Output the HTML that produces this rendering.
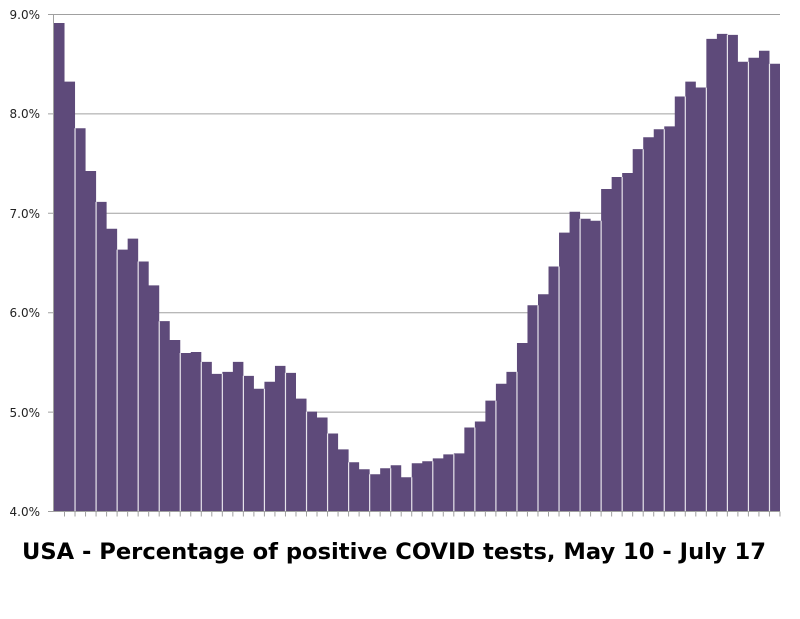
<!DOCTYPE html>
<html><head><style>body{margin:0;background:#fff}svg{display:block}</style></head><body>
<svg width="800" height="619" xmlns="http://www.w3.org/2000/svg">
<g stroke="#a0a0a0" stroke-width="1">
<line x1="48" y1="14.5" x2="780" y2="14.5"/>
<line x1="48" y1="113.9" x2="780" y2="113.9"/>
<line x1="48" y1="213.3" x2="780" y2="213.3"/>
<line x1="48" y1="312.7" x2="780" y2="312.7"/>
<line x1="48" y1="412.1" x2="780" y2="412.1"/>
</g>
<path fill="#5e4a7a" d="M54 511 V22.95 H64.52 V81.59 H75.04 V128.31 H85.57 V171.05 H96.09 V201.87 H106.61 V228.7 H117.13 V249.58 H127.65 V238.64 H138.17 V261.51 H148.7 V285.36 H159.22 V321.15 H169.74 V340.03 H180.26 V352.95 H190.78 V351.96 H201.3 V361.9 H211.83 V373.83 H222.35 V371.84 H232.87 V361.9 H243.39 V375.82 H253.91 V388.74 H264.43 V381.78 H274.96 V365.88 H285.48 V372.83 H296 V398.68 H306.52 V411.6 H317.04 V417.56 H327.56 V433.47 H338.09 V449.37 H348.61 V462.29 H359.13 V469.25 H369.65 V474.22 H380.17 V468.26 H390.69 V465.28 H401.22 V477.2 H411.74 V463.29 H422.26 V461.3 H432.78 V458.32 H443.3 V454.34 H453.83 V453.35 H464.35 V427.5 H474.87 V421.54 H485.39 V400.67 H495.91 V383.77 H506.43 V371.84 H516.96 V343.01 H527.48 V305.24 H538 V294.31 H548.52 V266.48 H559.04 V232.68 H569.57 V211.81 H580.09 V218.76 H590.61 V220.75 H601.13 V188.94 H611.65 V177.02 H622.17 V173.04 H632.7 V149.18 H643.22 V137.26 H653.74 V129.3 H664.26 V126.32 H674.78 V96.5 H685.3 V81.59 H695.83 V87.56 H706.35 V38.85 H716.87 V33.88 H727.39 V34.87 H737.91 V61.71 H748.43 V57.74 H758.96 V50.78 H769.48 V63.7 H780 V511 Z"/>
<path stroke="#ffffff" stroke-width="1.2" opacity="0.85" d="M75.04 128.3V511 M96.09 201.9V511 M117.13 249.6V511 M138.17 261.5V511 M159.22 321.2V511 M180.26 353V511 M201.3 361.9V511 M222.35 373.8V511 M243.39 375.8V511 M264.43 388.7V511 M285.48 372.8V511 M306.52 411.6V511 M327.56 433.5V511 M348.61 462.3V511 M369.65 474.2V511 M390.69 468.3V511 M411.74 477.2V511 M432.78 461.3V511 M453.83 454.3V511 M474.87 427.5V511 M495.91 400.7V511 M516.96 371.8V511 M538 305.2V511 M559.04 266.5V511 M580.09 218.8V511 M601.13 220.8V511 M622.17 177V511 M643.22 149.2V511 M664.26 129.3V511 M685.3 96.5V511 M706.35 87.6V511 M727.39 34.9V511 M748.43 61.7V511 M769.48 63.7V511"/>
<line x1="48" y1="511.5" x2="780" y2="511.5" stroke="#a0a0a0"/>
<line x1="64" y1="514" x2="781" y2="514" stroke="#a0a0a0" stroke-width="5" stroke-dasharray="1 9.5217"/>
<line x1="53.5" y1="14" x2="53.5" y2="512" stroke="#a0a0a0"/>
<g font-family="DejaVu Sans, sans-serif" font-size="12" fill="#222" text-anchor="end">
<text x="40" y="19">9.0%</text>
<text x="40" y="118">8.0%</text>
<text x="40" y="218">7.0%</text>
<text x="40" y="317">6.0%</text>
<text x="40" y="417">5.0%</text>
<text x="40" y="516">4.0%</text>
</g>
<text x="22" y="559" font-family="DejaVu Sans, sans-serif" font-weight="bold" font-size="22" fill="#000" textLength="744" lengthAdjust="spacingAndGlyphs">USA - Percentage of positive COVID tests, May 10 - July 17</text>
</svg>
</body></html>
